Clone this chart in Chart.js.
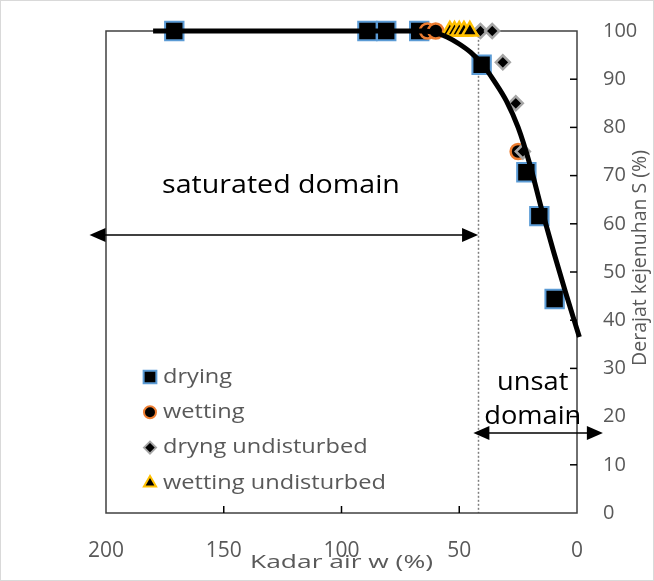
<!DOCTYPE html>
<html>
<head>
<meta charset="utf-8">
<script src="https://cdn.jsdelivr.net/npm/chart.js@4/dist/chart.umd.min.js"></script>
<style>
  html, body { margin: 0; padding: 0; background: #fff; }
  #wrap { width: 654px; height: 581px; }
</style>
</head>
<body>
<div id="wrap"><canvas id="c" width="654" height="581"></canvas></div>
<script>
// ---- data ----
const xTicks = [200, 150, 100, 50, 0];
const yTicks = [0, 10, 20, 30, 40, 50, 60, 70, 80, 90, 100];

const dryingW = [171, 89, 81, 67, 40.5, 21.5, 16, 9.5];
const dryingS = [100, 100, 100, 100, 93, 70.7, 61.6, 44.4];

const wettingW = [63.5, 60, 25];
const wettingS = [100, 100, 75];

const dryUndW = [41, 36, 31.5, 26, 23];
const dryUndS = [100, 100, 93.5, 85, 75];

const wetUndW = [54, 52, 50, 48, 45.5];
const wetUndS = [100, 100, 100, 100, 100];

const fitW = [180, 65, 60, 55, 50, 45, 40, 35, 30, 25, 20, 15, 10, 5, -1];
const fitS = [100, 100, 99.6, 98.7, 97.3, 95.5, 93, 89.5, 85.5, 80, 72.3, 63, 54.3, 46, 36.5];

const boundaryW = 42;            // dotted boundary line
const satArrowW = [207, 42];     // saturated domain arrow (from, to)
const satArrowS = 57.7;
const unsatArrowW = [44, -11];   // unsat domain arrow
const unsatArrowS = 16.6;
const satLabel = { text: 'saturated domain', w: 125.7, s: 68 };
const unsatLabel = { lines: ['unsat', 'domain'], w: 18.8, s: [27, 20] };

const xTitle = 'Kadar air w (%)';
const yTitle = 'Derajat kejenuhan S (%)';

const pts = (ws, ss) => ws.map((w, i) => ({ x: w, y: ss[i] }));

const FONT = "'Open Sans', 'DejaVu Sans', sans-serif";
const GREY = '#595959';
Chart.defaults.font.family = FONT;

const datasets = [
  { label: 'fit', type: 'line', data: pts(fitW, fitS), borderColor: '#000', borderWidth: 5, order: 0,
    pointRadius: 0, cubicInterpolationMode: 'monotone', clip: false, showLegend: false },
  { label: 'drying', data: pts(dryingW, dryingS), pointStyle: 'rect', pointRadius: 13, order: 4,
    backgroundColor: '#000', borderColor: '#5b9bd5', borderWidth: 2, clip: false, legR: 9 },
  { label: 'wetting', data: pts(wettingW, wettingS), pointStyle: 'circle', pointRadius: 7.5, order: 3,
    backgroundColor: '#000', borderColor: '#ed7d31', borderWidth: 2.5, clip: false, legR: 6 },
  { label: 'dryng undisturbed', data: pts(dryUndW, dryUndS), pointStyle: 'rectRot', pointRadius: 7, order: 2,
    backgroundColor: '#000', borderColor: '#a5a5a5', borderWidth: 2.5, clip: false, legR: 6 },
  { label: 'wetting undisturbed', data: pts(wetUndW, wetUndS), pointStyle: 'triangle', pointRadius: 9, order: 1,
    backgroundColor: '#000', borderColor: '#ffc000', borderWidth: 2.5, clip: false, legR: 7 }
];

function arrowHead(ctx, x, y, dir) {
  ctx.beginPath();
  ctx.moveTo(x, y);
  ctx.lineTo(x - dir * 16, y - 7);
  ctx.lineTo(x - dir * 16, y + 7);
  ctx.closePath();
  ctx.fill();
}

// text drawn with a horizontal stretch (the reference text is widened)
function stretchText(ctx, text, x, y, size, sx, align) {
  ctx.save();
  ctx.font = size + 'px ' + FONT;
  ctx.translate(x, y);
  ctx.scale(sx, 1);
  ctx.textAlign = align || 'center';
  ctx.fillText(text, 0, 0);
  ctx.restore();
}

const overlay = {
  id: 'overlay',
  beforeDatasetsDraw(chart) {
    const { ctx, chartArea: a, scales: { x, y } } = chart;
    ctx.save();
    // dotted boundary
    ctx.strokeStyle = '#7f7f7f';
    ctx.lineWidth = 1.5;
    ctx.setLineDash([2, 2]);
    const bx = Math.round(x.getPixelForValue(boundaryW)) + 0.5;
    ctx.beginPath();
    ctx.moveTo(bx, y.getPixelForValue(99));
    ctx.lineTo(bx, a.bottom);
    ctx.stroke();
    ctx.setLineDash([]);
    // plot frame
    ctx.strokeStyle = '#404040';
    ctx.lineWidth = 1.5;
    ctx.strokeRect(a.left, a.top, a.right - a.left, a.bottom - a.top);
    // inward ticks
    ctx.strokeStyle = '#000';
    ctx.lineWidth = 1.5;
    xTicks.forEach(v => {
      if (v === 0 || v === 200) return;
      const px = x.getPixelForValue(v);
      ctx.beginPath(); ctx.moveTo(px, a.bottom); ctx.lineTo(px, a.bottom - 7); ctx.stroke();
    });
    yTicks.forEach(v => {
      if (v === 0 || v === 100) return;
      const py = y.getPixelForValue(v);
      ctx.beginPath(); ctx.moveTo(a.right, py); ctx.lineTo(a.right - 7, py); ctx.stroke();
    });
    ctx.restore();
  },
  afterDraw(chart) {
    const { ctx, chartArea: a, scales: { x, y } } = chart;
    ctx.save();
    // arrows
    ctx.strokeStyle = '#000';
    ctx.fillStyle = '#000';
    ctx.lineWidth = 1.5;
    [[satArrowW, satArrowS], [unsatArrowW, unsatArrowS]].forEach(([ws, s]) => {
      const x1 = x.getPixelForValue(ws[0]), x2 = x.getPixelForValue(ws[1]);
      const py = y.getPixelForValue(s);
      ctx.beginPath(); ctx.moveTo(x1 + 10, py); ctx.lineTo(x2 - 10, py); ctx.stroke();
      arrowHead(ctx, x1, py, -1);
      arrowHead(ctx, x2, py, 1);
    });
    // domain labels
    ctx.fillStyle = '#000';
    ctx.textBaseline = 'middle';
    stretchText(ctx, satLabel.text, x.getPixelForValue(satLabel.w), y.getPixelForValue(satLabel.s), 26, 1.1);
    unsatLabel.lines.forEach((t, i) => {
      stretchText(ctx, t, x.getPixelForValue(unsatLabel.w), y.getPixelForValue(unsatLabel.s[i]), 25, 1.09);
    });
    // legend
    let ly = 377;
    chart.data.datasets.forEach(ds => {
      if (ds.showLegend === false) return;
      ctx.save();
      ctx.fillStyle = ds.backgroundColor;
      ctx.strokeStyle = ds.borderColor;
      ctx.lineWidth = 2;
      Chart.helpers.drawPoint(ctx, { pointStyle: ds.pointStyle, radius: ds.legR, borderWidth: 2 }, 150, ly);
      ctx.restore();
      ctx.fillStyle = GREY;
      ctx.textBaseline = 'middle';
      stretchText(ctx, ds.label, 163, ly, 20, 1.18, 'left');
      ly += 35.3;
    });
    // x axis title (drawn here so it can overlap the tick labels like the reference)
    ctx.fillStyle = GREY;
    ctx.textBaseline = 'alphabetic';
    stretchText(ctx, xTitle, (a.left + a.right) / 2, 568, 19, 1.39);
    // y axis title, reading bottom to top
    ctx.save();
    ctx.translate(640, (a.top + a.bottom) / 2 - 14);
    ctx.rotate(-Math.PI / 2);
    ctx.textAlign = 'center';
    ctx.textBaseline = 'middle';
    ctx.fillStyle = GREY;
    ctx.font = '19.5px ' + FONT;
    ctx.fillText(yTitle, 0, 0);
    ctx.restore();
    // outer frame
    ctx.strokeStyle = '#d9d9d9';
    ctx.lineWidth = 1;
    ctx.strokeRect(0.5, 0.5, 653, 580);
    ctx.restore();
  }
};

new Chart(document.getElementById('c'), {
  type: 'scatter',
  data: { datasets },
  options: {
    responsive: false,
    animation: false,
    layout: { padding: { left: 106, top: 31, right: 0, bottom: 0 } },
    plugins: { legend: { display: false }, tooltip: { enabled: false } },
    scales: {
      x: {
        type: 'linear', position: 'bottom', reverse: true, min: 0, max: 200,
        afterBuildTicks: s => { s.ticks = xTicks.map(v => ({ value: v })); },
        afterFit: s => { s.height = 68; s.paddingLeft = 0; s.paddingRight = 0; },
        grid: { display: false, drawTicks: false },
        border: { display: false },
        ticks: { color: GREY, font: { size: 21 }, padding: 25, maxRotation: 0 },
        title: { display: false }
      },
      y: {
        type: 'linear', position: 'right', min: 0, max: 100,
        afterBuildTicks: s => { s.ticks = yTicks.map(v => ({ value: v })); },
        afterFit: s => { s.width = 77; s.paddingTop = 0; s.paddingBottom = 0; },
        grid: { display: false, drawTicks: false },
        border: { display: false },
        ticks: { color: GREY, font: { size: 20 }, padding: 26 }
      }
    }
  },
  plugins: [overlay]
});
</script>
</body>
</html>
